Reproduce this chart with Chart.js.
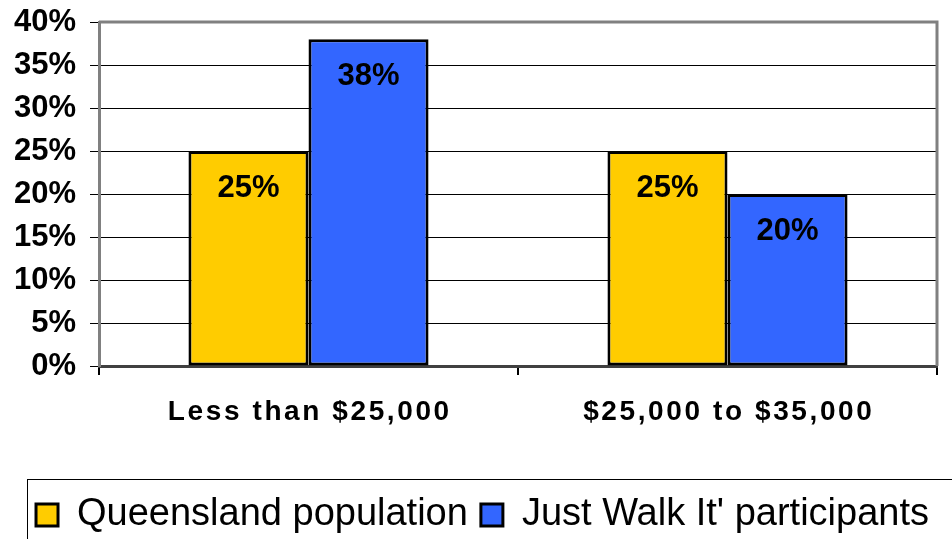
<!DOCTYPE html>
<html>
<head>
<meta charset="utf-8">
<script src="https://cdn.jsdelivr.net/npm/chart.js@4/dist/chart.umd.min.js"></script>
<style>
  html, body { margin: 0; padding: 0; background: #fff; }
  #wrap { width: 952px; height: 539px; position: relative; }
</style>
</head>
<body>
<div id="wrap"><canvas id="chart"></canvas></div>
<script>
// Datos
const categories = ['Less than $25,000', '$25,000 to $35,000'];
const queensland = [25, 25];
const participants = [38, 20];
const seriesNames = ['Queensland population', "Just Walk It' participants"];
const yTicks = [0, 5, 10, 15, 20, 25, 30, 35, 40];

const FONT = "'Liberation Sans', Arial, sans-serif";

// Etiquetas dentro de las barras
const barLabels = {
    id: 'barLabels',
    afterDatasetsDraw(chart) {
        const ctx = chart.ctx;
        ctx.save();
        ctx.fillStyle = '#000';
        ctx.font = 'bold 31px ' + FONT;
        ctx.textAlign = 'center';
        ctx.textBaseline = 'middle';
        chart.data.datasets.forEach((ds, i) => {
            chart.getDatasetMeta(i).data.forEach((bar, j) => {
                ctx.fillText(ds.data[j] + '%', bar.x, bar.y + 37);
            });
        });
        ctx.restore();
    }
};

// Mover la leyenda un poco (como en el original)
const legendShift = {
    id: 'legendShift',
    afterLayout(chart) {
        const lg = chart.legend;
        lg.left += 14; lg.right += 14;
        lg.top += 5; lg.bottom += 5;
    }
};

// Marco del área, etiquetas del eje X y caja de leyenda
const frames = {
    id: 'frames',
    afterDraw(chart) {
        const ctx = chart.ctx;
        const a = chart.chartArea;
        ctx.save();
        ctx.strokeStyle = '#808080';
        ctx.lineWidth = 3;
        ctx.beginPath();
        ctx.moveTo(a.left, a.top);
        ctx.lineTo(a.right, a.top);
        ctx.lineTo(a.right, a.bottom);
        ctx.stroke();

        // etiquetas de categoría (con espaciado de letras)
        const xs = chart.scales.x;
        ctx.fillStyle = '#000';
        ctx.font = 'bold 28px ' + FONT;
        ctx.letterSpacing = '2.6px';
        ctx.textAlign = 'center';
        ctx.textBaseline = 'middle';
        categories.forEach((c, i) => {
            ctx.fillText(c, xs.getPixelForValue(i) + 1.3, a.bottom + 46);
        });
        ctx.letterSpacing = '0px';

        // caja de leyenda
        ctx.strokeStyle = '#000';
        ctx.lineWidth = 1;
        ctx.strokeRect(27.5, 479.5, 960, 100);
        ctx.restore();
    }
};

new Chart(document.getElementById('chart'), {
    type: 'bar',
    data: {
        labels: categories,
        datasets: [{
            label: seriesNames[0],
            data: queensland,
            backgroundColor: '#FFCC00',
            borderColor: '#000',
            borderWidth: 3,
            borderSkipped: false
        }, {
            label: seriesNames[1],
            data: participants,
            backgroundColor: '#3366FF',
            borderColor: '#000',
            borderWidth: 3,
            borderSkipped: false
        }]
    },
    options: {
        responsive: true,
        maintainAspectRatio: false,
        animation: false,
        layout: { padding: { top: 22, right: 15, left: 0, bottom: 0 } },
        datasets: { bar: { categoryPercentage: 0.573, barPercentage: 1 } },
        scales: {
            x: {
                grid: { drawOnChartArea: false, drawTicks: true, tickLength: 9, color: '#000', lineWidth: 2 },
                border: { color: '#404040', width: 3 },
                ticks: { display: false },
                afterFit(scale) { scale.height = 112; scale.paddingLeft = 0; scale.paddingRight = 0; }
            },
            y: {
                min: 0,
                max: 40,
                afterBuildTicks(scale) { scale.ticks = yTicks.map(v => ({ value: v })); },
                grid: { color: '#000', lineWidth: 1, tickLength: 9 },
                border: { color: '#808080', width: 3 },
                ticks: {
                    color: '#000',
                    autoSkip: false,
                    font: { family: FONT, size: 31, weight: 'bold' },
                    padding: 14,
                    callback: v => v + '%'
                },
                afterFit(scale) { scale.width = 99; scale.paddingTop = 0; scale.paddingBottom = 0; }
            }
        },
        plugins: {
            legend: {
                position: 'bottom',
                labels: {
                    color: '#000',
                    font: { family: FONT, size: 38 },
                    boxWidth: 22,
                    boxHeight: 22,
                    padding: 13,
                    useBorderRadius: false
                }
            },
            tooltip: { enabled: false }
        }
    },
    plugins: [barLabels, legendShift, frames]
});
</script>
</body>
</html>
